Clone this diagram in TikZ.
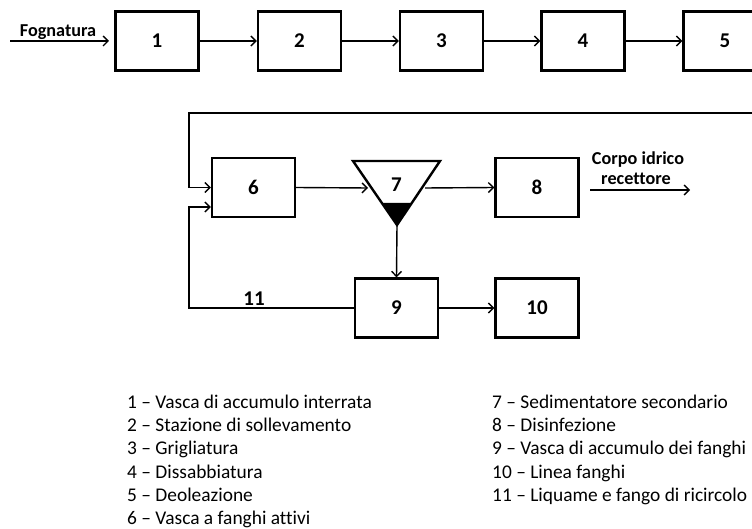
\documentclass[tikz,border=0pt]{standalone}
\usepackage{fontspec}
\setmainfont[Ligatures=CommonOff]{Carlito}
\usetikzlibrary{arrows.meta}
\begin{document}
\begin{tikzpicture}[x=1pt,y=-1pt,
  box/.style={draw, line width=2.4pt, minimum width=83pt, minimum height=59pt, inner sep=0pt,
              font=\fontsize{21}{24}\selectfont\bfseries},
  flow/.style={line width=1.4pt, -{Straight Barb[length=5pt,width=10pt,line width=1.4pt]}},
  lbl/.style={font=\fontsize{18.2}{21}\selectfont\bfseries, inner sep=0pt, anchor=base},
  num/.style={font=\fontsize{21}{24}\selectfont\bfseries, inner sep=0pt},
  leg/.style={anchor=base west, inner sep=0pt, font=\fontsize{19.4}{23}\selectfont}]
\useasboundingbox (0,0) rectangle (752,529);

% top row
\node[box] (b1) at (157,41) {1};
\node[box] (b2) at (299.5,41) {2};
\node[box] (b3) at (441.5,41) {3};
\node[box] (b4) at (583,41) {4};
\node[box] (b5) at (725,41) {5};

\coordinate (fin) at (10,41);
\coordinate (fend) at (109,41);
\node[lbl] (fog) at (58,37) {Fognatura};
\draw[flow] (fin) -- (fend);
\draw[flow] (b1.east) -- (b2.west);
\draw[flow] (b2.east) -- (b3.west);
\draw[flow] (b3.east) -- (b4.west);
\draw[flow] (b4.east) -- (b5.west);

% middle row
\node[box] (b6) at (253.5,187.5) {6};
\node[box] (b8) at (537,187.5) {8};
\node[box] (b9) at (396.5,308) {9};
\node[box] (b10) at (537,308) {10};

% settler 7
\coordinate (t7a) at (353,161);
\coordinate (t7b) at (440,161);
\coordinate (t7c) at (397,225);
\fill (382,203) -- (412,203) -- (t7c) -- cycle;
\draw[line width=2.4pt, line join=miter] (t7a) -- (t7b) -- (t7c) -- cycle;
\node[num] (n7) at (396.5,185) {7};
\coordinate (t7in) at (368,188);
\coordinate (t7out) at (425,188);

\draw[flow] (b6.east) -- (t7in);
\draw[flow] (t7out) -- (b8.west);
\draw[flow] (t7c) -- (b9.north);
\draw[flow] (b9.east) -- (b10.west);

% recirculation from 5
\coordinate (loopR) at (770,113);
\draw[flow] (loopR) -- (189,113) |- (b6.west);
% return 11
\draw[flow] (b9.west) -- (189,308) |- ([yshift=-19.5pt]b6.west);
\node[num] (n11) at (254,298.5) {11};

% outlet
\coordinate (c1) at (590,190);
\coordinate (c2) at (690,190);
\draw[flow] (c1) -- (c2);
\node[lbl] (corpo) at (638,165) {Corpo idrico};
\node[lbl] (recet) at (636,185) {recettore};

% legend
\node[leg] (l1) at (127,408) {1 – Vasca di accumulo interrata};
\node[leg] (l2) at (127,431) {2 – Stazione di sollevamento};
\node[leg] (l3) at (127,454) {3 – Grigliatura};
\node[leg] (l4) at (127,478) {4 – Dissabbiatura};
\node[leg] (l5) at (127,501) {5 – Deoleazione};
\node[leg] (l6) at (127,524) {6 – Vasca a fanghi attivi};
\node[leg] (l7) at (492,408) {7 – Sedimentatore secondario};
\node[leg] (l8) at (492,431) {8 – Disinfezione};
\node[leg] (l9) at (492,454) {9 – Vasca di accumulo dei fanghi};
\node[leg] (l10) at (492,478) {10 – Linea fanghi};
\node[leg] (l11) at (492,501) {11 – Liquame e fango di ricircolo};
\end{tikzpicture}
\end{document}
